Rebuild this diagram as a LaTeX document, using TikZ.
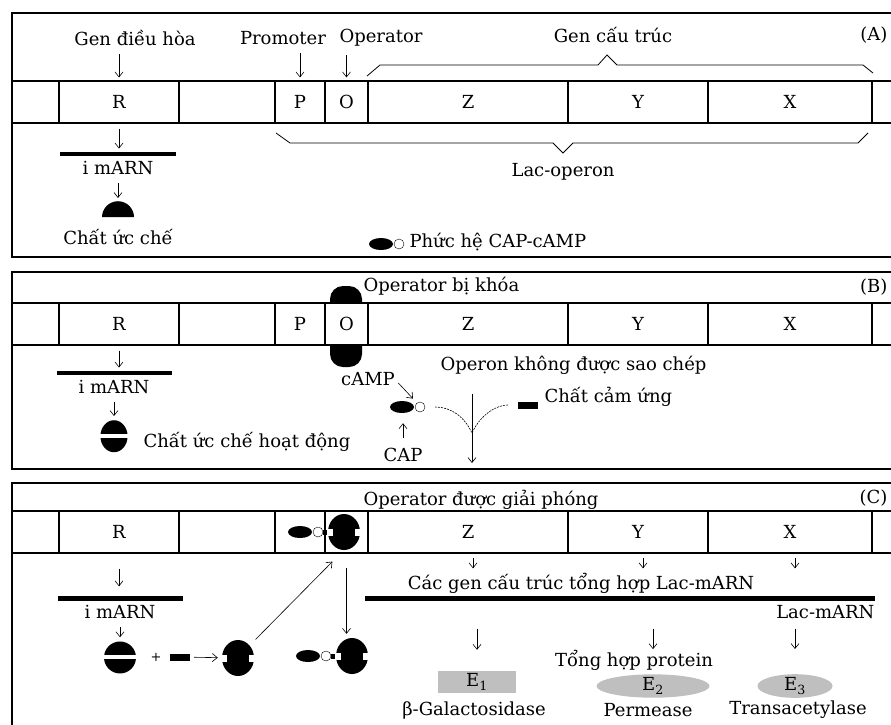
\documentclass[tikz,border=0pt]{standalone}
\usepackage{fontspec}
\setmainfont{DejaVu Serif}
\usetikzlibrary{arrows.meta, positioning, shapes.geometric}

\begin{document}
\begin{tikzpicture}[
    x=1pt, y=1pt,
    font=\fontsize{18}{20}\selectfont,
    panel/.style={draw, line width=1.2pt},
    cell/.style={draw, fill=white, line width=1.2pt, minimum height=42pt, inner sep=0pt},
    arrow/.style={-{Straight Barb[length=5pt, width=8pt]}, semithick, shorten <=5pt, shorten >=3pt},
    brace/.style={line width=0.8pt},
    mrna/.style={fill, inner sep=0pt, minimum height=4.5pt},
    blob/.style={inner sep=0pt, minimum width=32pt, minimum height=34pt},
    inducer/.style={fill, inner sep=0pt, minimum width=20pt, minimum height=7pt},
    flow/.style={semithick, dash pattern=on 2pt off 1pt},
    enzyme/.style={fill=black!25, inner sep=0pt, minimum height=22pt},
    halfrep/.pic={\fill (-16,-8) arc[start angle=180, end angle=0, radius=16] -- cycle;},
    actrep/.pic={\fill (0,0) circle[radius=16]; \fill[white] (-17,-2) rectangle (17,2);},
    inactrep/.pic={\fill (0,0) ellipse[x radius=16, y radius=18];
        \fill[white] (-17,-3.5) rectangle (-11,3.5); \fill[white] (11,-3.5) rectangle (17,3.5);},
    capcamp/.pic={\fill (-9,0) ellipse[x radius=12, y radius=6];
        \draw[fill=white, thin] (9,0) circle[radius=5];},
    boundrep/.pic={\pic at (-35,0) {capcamp}; \fill (-21,-2.5) rectangle (-16,2.5); \pic {inactrep};}
]
\useasboundingbox (0,0) rectangle (891,-724);

% panels
\draw[panel] (12,-13) rectangle (900,-257);
\draw[panel] (12,-272) rectangle (900,-469);
\draw[panel] (12,-483) rectangle (900,-740);
\fill[rounded corners=13pt] (330,-286) rectangle (362,-367);

% gene strips
\foreach \p/\y in {a/-102, b/-324, c/-532}
    \foreach \n/\a/\b/\t in {0/12/59/{}, R/59/179/R, 1/179/275/{}, P/275/325/{}, O/325/368/{}, Z/368/568/Z, Y/568/708/Y, X/708/872/X, 2/872/900/{}}
        \node[cell, minimum width={(\b-\a)*1pt}] (\p\n) at ({(\a+\b)/2},\y) {\t};
\foreach \p in {a, b} {
    \node at (\p P) {P};
    \node at (\p O) {O};
}

% (A)
\node (genR) at (135,-38) {Gen điều hòa};
\node (prom) at (283,-38) {Promoter};
\node (oper) at (381,-38) {Operator};
\node (gct) at (613,-35) {Gen cấu trúc};
\node[anchor=east] (tagA) at (891,-35) {(A)};
\draw[arrow] (aR.north |- genR.south) -- (aR.north);
\draw[arrow] (aP.north |- prom.south) -- (aP.north);
\draw[arrow] (aO.north |- oper.south) -- (aO.north);
\draw[brace] (367,-76) -- (380,-65) -- (598,-65) -- (607,-55) -- (617,-65) -- (863,-65) -- (873,-73);
\draw[brace] (276,-133) -- (290,-143) -- (553,-143) -- (563,-153) -- (573,-143) -- (858,-143) -- (868,-133);
\node (lacop) at (563,-172) {Lac-operon};

\node[mrna, minimum width=116pt] (amrna) at (118,-154) {};
\node[below=1pt of amrna] (aimrna) {i mARN};
\node[blob, minimum height=16pt, below=23pt of aimrna] (arep) {};
\pic at (arep) {halfrep};
\node[below=8pt of arep] (arepl) {Chất ức chế};
\draw[arrow] (aR.south) -- (aR.south |- amrna.north);
\draw[arrow] (aimrna) -- (arep);

\node[blob, minimum width=42pt, minimum height=12pt] (acc) at (390,-244) {};
\pic at (acc) {capcamp};
\node[anchor=west] (accl) at (406,-242) {Phức hệ CAP-cAMP};

% (B)
\node[anchor=west] (bopl) at (360,-286) {Operator bị khóa};
\node[anchor=east] (tagB) at (891,-287) {(B)};

\node[mrna, minimum width=115pt] (bmrna) at (114,-373) {};
\node[below=1pt of bmrna] (bimrna) {i mARN};
\node[blob, below=22pt of bimrna] (brep) {};
\pic[xscale=0.85] at (brep) {actrep};
\node[anchor=west] (brepl) at (140,-442) {Chất ức chế hoạt động};
\draw[arrow] (bR.south) -- (bR.south |- bmrna.north);
\draw[arrow] (bimrna) -- (brep);

\node (bcamp) at (368,-379) {cAMP};
\node[blob, minimum width=42pt, minimum height=12pt] (bcc) at (411,-407) {};
\pic at (bcc) {capcamp};
\node (bcap) at (403,-455) {CAP};
\draw[arrow, shorten <=0pt] ([yshift=-4pt]bcamp.east) -- ([xshift=4pt]bcc.north);
\draw[arrow, shorten <=7pt, shorten >=10pt] (bcap.north) -- (bcap.north |- bcc.south);

\node[anchor=west] (bop) at (437,-365) {Operon không được sao chép};
\coordinate (bmerge) at (472,-433);
\coordinate (bend) at (472,-463);
\node[inducer] (bind) at (528,-405) {};
\node[anchor=west] (bindl) at (541,-397) {Chất cảm ứng};
\draw[flow, shorten <=3pt] (bcc.east) to[out=0, in=115] (bmerge);
\draw[flow, shorten <=10pt] (bind.west) to[out=180, in=65] (bmerge);
\draw[arrow, shorten <=16pt, shorten >=0pt] (bop.south -| bmerge) -- (bend);

% (C)
\node[anchor=west] (opfree) at (360,-500) {Operator được giải phóng};
\node[anchor=east] (tagC) at (891,-498) {(C)};
\node[blob, minimum height=36pt] (cbound) at (344,-532) {};
\pic at (cbound) {boundrep};

\node[mrna, minimum width=125pt, minimum height=5pt] (cmrnaR) at (120,-598) {};
\node[below=1pt of cmrnaR] (cimrna) {i mARN};
\node[blob, below=18pt of cimrna] (crep1) {};
\pic at (crep1) {actrep};
\draw[arrow, shorten <=15pt, shorten >=9pt] (cR.south) -- (cR.south |- cmrnaR.north);
\draw[arrow] (cimrna) -- (crep1);

\node[font=\fontsize{13}{13}\selectfont] (plus) at (156,-657) {+};
\node[inducer] (cind) at (180,-657) {};
\node[blob] (crep2) at (238,-658) {};
\pic at (crep2) {inactrep};
\node[blob, minimum height=36pt] (cbound2) at (352,-656) {};
\pic at (cbound2) {boundrep};
\draw[arrow, shorten <=4pt, shorten >=4pt] (cind) -- (crep2);
\draw[arrow, shorten <=2pt, shorten >=0pt] (crep2.north east) -- ([shift={(8,-8)}]cO.south west);
\draw[arrow, shorten <=14pt, shorten >=4pt] (cO.south) -- (cO.south |- cbound2.north);

\node (lacgen) at (581,-583) {Các gen cấu trúc tổng hợp Lac-mARN};
\foreach \g in {cZ, cY, cX}
    \draw[arrow, shorten <=4pt, shorten >=1pt] ([xshift=5pt]\g.south) -- ([xshift=5pt]\g.south |- lacgen.north);
\node[mrna, minimum width=510pt, minimum height=5pt] (lacmrna) at (620,-598) {};
\node[anchor=east] (lacl) at (878,-612) {Lac-mARN};
\node (synth) at (634,-660) {Tổng hợp protein};
\node[enzyme, minimum width=78pt] (e1) at (477,-682) {E\textsubscript{1}};
\node[enzyme, ellipse, minimum width=113pt] (e2) at (653,-686) {E\textsubscript{2}};
\node[enzyme, ellipse, minimum width=75pt] (e3) at (795,-686) {E\textsubscript{3}};
\foreach \e/\s in {e1/21, e2/25, e3/25}
    \draw[arrow, shorten <=28pt, shorten >=\s pt] (\e |- lacmrna.south) -- (\e.north);
\node (e1l) at (474,-710) {β-Galactosidase};
\node (e2l) at (648,-710) {Permease};
\node (e3l) at (798,-710) {Transacetylase};
\end{tikzpicture}
\end{document}
